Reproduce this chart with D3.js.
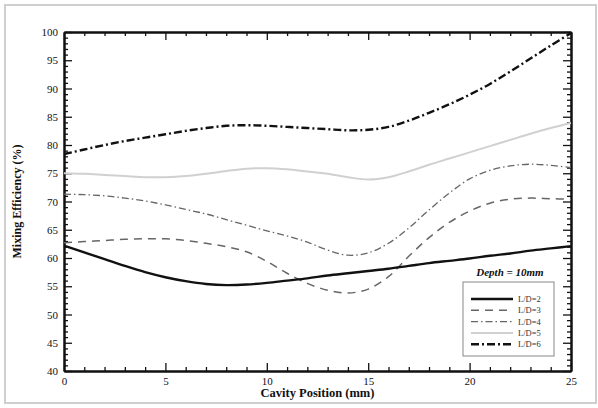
<!DOCTYPE html>
<html>
<head>
<meta charset="utf-8">
<script src="https://cdn.jsdelivr.net/npm/d3@7"></script>
<style>
  body { margin: 0; background: #fff; }
  svg text { font-family: "Liberation Serif", "DejaVu Serif", serif; }
</style>
</head>
<body>
<svg id="chart" width="598" height="408"></svg>
<script>
// cavity positions (mm)
const positions = [0, 1, 2, 3, 4, 5, 6, 7, 8, 9, 10, 11, 12, 13, 14, 15, 16, 17, 18, 19, 20, 21, 22, 23, 24, 25];

const ld2 = [62.2, 61.0, 59.8, 58.6, 57.5, 56.6, 55.9, 55.4, 55.2, 55.3, 55.6, 56.0, 56.4, 56.9, 57.3, 57.7, 58.1, 58.6, 59.1, 59.5, 59.9, 60.4, 60.8, 61.3, 61.7, 62.1];
const ld3 = [62.7, 62.9, 63.1, 63.3, 63.4, 63.4, 63.1, 62.6, 62.0, 61.1, 59.4, 57.3, 55.5, 54.3, 53.8, 54.5, 56.7, 60.3, 63.6, 66.3, 68.3, 69.7, 70.4, 70.6, 70.5, 70.4];
const ld4 = [71.3, 71.2, 71.0, 70.6, 70.1, 69.4, 68.6, 67.8, 66.8, 65.8, 64.8, 63.9, 62.8, 61.4, 60.5, 60.9, 62.6, 65.3, 68.5, 71.5, 74.0, 75.5, 76.3, 76.6, 76.4, 76.0];
const ld5 = [75.0, 74.9, 74.7, 74.5, 74.3, 74.3, 74.5, 74.9, 75.4, 75.8, 75.9, 75.7, 75.3, 74.9, 74.3, 73.9, 74.3, 75.3, 76.5, 77.6, 78.7, 79.8, 80.9, 82.0, 83.0, 83.9];
const ld6 = [78.4, 79.2, 80.0, 80.7, 81.3, 81.9, 82.5, 83.0, 83.4, 83.5, 83.4, 83.2, 83.0, 82.8, 82.6, 82.7, 83.2, 84.3, 85.7, 87.2, 88.9, 90.8, 93.0, 95.3, 97.6, 99.8];

const seriesNames = ['L/D=2', 'L/D=3', 'L/D=4', 'L/D=5', 'L/D=6'];
const xTicks = [0, 5, 10, 15, 20, 25];
const yTicks = [40, 45, 50, 55, 60, 65, 70, 75, 80, 85, 90, 95, 100];

const styles = [
  { color: '#111', width: 2.4, dash: null },
  { color: '#666', width: 1.5, dash: '8,6' },
  { color: '#666', width: 1.3, dash: '7,3,1.5,3' },
  { color: '#d0d0d0', width: 2, dash: null },
  { color: '#111', width: 2.4, dash: '8,3,2,3' }
];

const svg = d3.select('#chart');

// outer frame
svg.append('rect')
  .attr('x', 5).attr('y', 5)
  .attr('width', 591).attr('height', 398)
  .attr('fill', 'none')
  .attr('stroke', '#cfcfcf')
  .attr('stroke-width', 2);

const margin = { top: 32, right: 27, bottom: 37, left: 64 };
const width = 598 - margin.left - margin.right;
const height = 408 - margin.top - margin.bottom;

const g = svg.append('g')
  .attr('transform', `translate(${margin.left},${margin.top})`);

const x = d3.scaleLinear().domain([0, 25]).range([0, width]);
const y = d3.scaleLinear().domain([40, 100]).range([height, 0]);

const minorX = d3.range(0, 26, 1).filter(v => v % 5 !== 0);
const minorY = d3.range(40, 101, 1).filter(v => v % 5 !== 0);

function styleAxis(sel) {
  sel.select('.domain').attr('stroke', '#111').attr('stroke-width', 2);
  sel.selectAll('.tick line').attr('stroke', '#111').attr('stroke-width', 1.3);
  sel.selectAll('.tick text')
    .attr('fill', '#111')
    .style('font-size', '11px');
}

// minor ticks
g.append('g').attr('transform', `translate(0,${height})`)
  .call(d3.axisBottom(x).tickValues(minorX).tickSize(-4).tickFormat('').tickSizeOuter(0))
  .call(styleAxis);
g.append('g')
  .call(d3.axisTop(x).tickValues(minorX).tickSize(-4).tickFormat('').tickSizeOuter(0))
  .call(styleAxis);
g.append('g')
  .call(d3.axisLeft(y).tickValues(minorY).tickSize(-4).tickFormat('').tickSizeOuter(0))
  .call(styleAxis);
g.append('g').attr('transform', `translate(${width},0)`)
  .call(d3.axisRight(y).tickValues(minorY).tickSize(-4).tickFormat('').tickSizeOuter(0))
  .call(styleAxis);

// major ticks
g.append('g').attr('transform', `translate(0,${height})`)
  .call(d3.axisBottom(x).tickValues(xTicks).tickSize(-8).tickPadding(6).tickSizeOuter(0))
  .call(styleAxis);
g.append('g')
  .call(d3.axisTop(x).tickValues(xTicks).tickSize(-8).tickFormat('').tickSizeOuter(0))
  .call(styleAxis);
g.append('g')
  .call(d3.axisLeft(y).tickValues(yTicks).tickSize(-8).tickPadding(6).tickSizeOuter(0))
  .call(styleAxis);
g.append('g').attr('transform', `translate(${width},0)`)
  .call(d3.axisRight(y).tickValues(yTicks).tickSize(-8).tickFormat('').tickSizeOuter(0))
  .call(styleAxis);

// curves
const allSeries = [ld2, ld3, ld4, ld5, ld6];
const line = d3.line()
  .x((d, i) => x(positions[i]))
  .y(d => y(d))
  .curve(d3.curveCatmullRom.alpha(0.5));

const order = [3, 2, 1, 0, 4];
order.forEach(k => {
  g.append('path')
    .datum(allSeries[k])
    .attr('fill', 'none')
    .attr('stroke', styles[k].color)
    .attr('stroke-width', styles[k].width)
    .attr('stroke-dasharray', styles[k].dash)
    .attr('d', line);
});

// axis titles
svg.append('text')
  .attr('x', margin.left + width / 2)
  .attr('y', 397)
  .attr('text-anchor', 'middle')
  .style('font-size', '12.5px')
  .style('font-weight', 'bold')
  .attr('fill', '#111')
  .text('Cavity Position (mm)');

svg.append('text')
  .attr('transform', `translate(21,${margin.top + height / 2}) rotate(-90)`)
  .attr('text-anchor', 'middle')
  .style('font-size', '12px')
  .style('font-weight', 'bold')
  .attr('fill', '#111')
  .text('Mixing Efficiency (%)');

// annotation
svg.append('text')
  .attr('x', 510)
  .attr('y', 276)
  .attr('text-anchor', 'middle')
  .style('font-size', '11px')
  .style('font-weight', 'bold')
  .style('font-style', 'italic')
  .attr('fill', '#111')
  .text('Depth = 10mm');

// legend
const legend = svg.append('g').attr('transform', 'translate(463,282)');
legend.append('rect')
  .attr('width', 91).attr('height', 74)
  .attr('fill', '#fff')
  .attr('stroke', '#888')
  .attr('stroke-width', 1);

seriesNames.forEach((name, k) => {
  const ly = 17 + k * 11.3;
  legend.append('line')
    .attr('x1', 8).attr('x2', 50)
    .attr('y1', ly).attr('y2', ly)
    .attr('stroke', styles[k].color)
    .attr('stroke-width', styles[k].width)
    .attr('stroke-dasharray', styles[k].dash);
  legend.append('text')
    .attr('x', 55)
    .attr('y', ly + 3)
    .style('font-size', '8.5px')
    .attr('fill', '#333')
    .text(name);
});
</script>
</body>
</html>
